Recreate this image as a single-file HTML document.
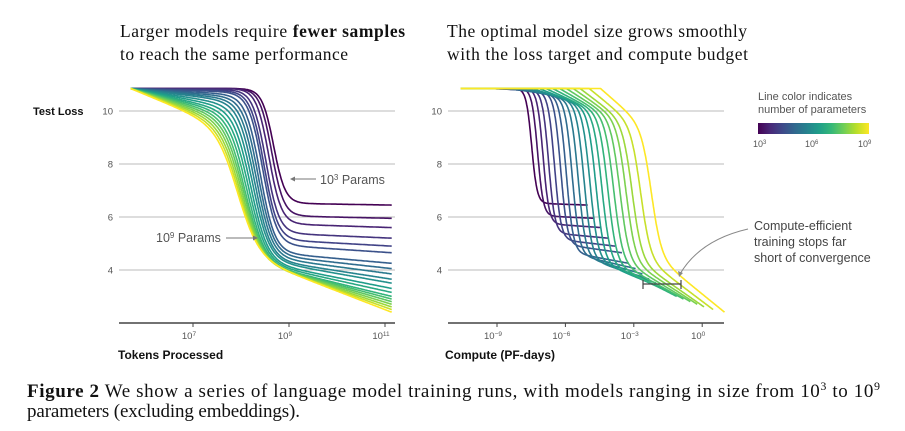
<!DOCTYPE html>
<html><head><meta charset="utf-8"><style>
body{margin:0;background:#fff;}
svg{display:block;}
.ser{font-family:"Liberation Serif",serif;}
.sans{font-family:"Liberation Sans",sans-serif;}
</style></head><body>
<svg id="fig" width="905" height="431" viewBox="0 0 905 431">
<defs><linearGradient id="vir" x1="0" x2="1" y1="0" y2="0">
<stop offset="0" stop-color="#440154"/><stop offset="0.11" stop-color="#482878"/><stop offset="0.22" stop-color="#3e4989"/><stop offset="0.33" stop-color="#31688e"/><stop offset="0.44" stop-color="#26828e"/><stop offset="0.55" stop-color="#1f9e89"/><stop offset="0.66" stop-color="#35b779"/><stop offset="0.77" stop-color="#6ece58"/><stop offset="0.88" stop-color="#b5de2b"/><stop offset="1" stop-color="#fde725"/></linearGradient></defs>
<g class="ser" font-size="17.5" fill="#111">
<text x="120" y="37" textLength="285" lengthAdjust="spacing">Larger models require <tspan font-weight="bold">fewer samples</tspan></text>
<text x="120" y="60" textLength="228" lengthAdjust="spacing">to reach the same performance</text>
<text x="447" y="37" textLength="300" lengthAdjust="spacing">The optimal model size grows smoothly</text>
<text x="447" y="60" textLength="301" lengthAdjust="spacing">with the loss target and compute budget</text>
</g>
<g id="grid"></g>
<g id="lines"></g>
<g class="sans">
<text x="33" y="115" font-size="11" font-weight="bold" fill="#111">Test Loss</text>
<text x="118" y="359" font-size="12" font-weight="bold" fill="#111">Tokens Processed</text>
<text x="445" y="359" font-size="12" font-weight="bold" fill="#111">Compute (PF-days)</text>
<text x="320" y="184" font-size="12.5" fill="#555">10<tspan font-size="8" dy="-4">3</tspan><tspan dy="4"> Params</tspan></text>
<line x1="316" y1="179" x2="292" y2="179" stroke="#777" stroke-width="1"/>
<path d="M290 179 l5 -2.5 v5z" fill="#777"/>
<text x="156" y="242" font-size="12.5" fill="#555">10<tspan font-size="8" dy="-4">9</tspan><tspan dy="4"> Params</tspan></text>
<line x1="226" y1="238" x2="256" y2="238" stroke="#777" stroke-width="1"/>
<path d="M258 238 l-5 -2.5 v5z" fill="#777"/>
<text x="758" y="100" font-size="11" fill="#555">Line color indicates</text>
<text x="758" y="113" font-size="11" fill="#555">number of parameters</text>
<rect x="758" y="123" width="111" height="11" fill="url(#vir)"/>
<g font-size="9" fill="#555">
<text x="753" y="147">10<tspan font-size="6" dy="-3">3</tspan></text>
<text x="805" y="147">10<tspan font-size="6" dy="-3">6</tspan></text>
<text x="858" y="147">10<tspan font-size="6" dy="-3">9</tspan></text>
</g>
<g font-size="12.5" fill="#444">
<text x="754" y="230">Compute-efficient</text>
<text x="754" y="246">training stops far</text>
<text x="754" y="262">short of convergence</text>
</g>
<path d="M748 229 Q700 240 680 274" fill="none" stroke="#888" stroke-width="1"/>
<path d="M679 277 l-1 -6 l5 2z" fill="#888"/>
<g stroke="#444" stroke-width="1.2">
<line x1="643" y1="284" x2="681" y2="284"/><line x1="643" y1="280" x2="643" y2="289"/><line x1="681" y1="280" x2="681" y2="289"/>
</g>
</g>
<g class="ser" font-size="19" fill="#111">
<text x="27" y="397" textLength="853" lengthAdjust="spacing"><tspan font-weight="bold">Figure 2</tspan>   We show a series of language model training runs, with models ranging in size from 10<tspan font-size="12" dy="-7">3</tspan><tspan dy="7"> to 10</tspan><tspan font-size="12" dy="-7">9</tspan></text>
<text x="27" y="417" textLength="273" lengthAdjust="spacing">parameters (excluding embeddings).</text>
</g>
</svg>
<script>
const logParams=[3,3.3,3.6,3.9,4.2,4.5,4.8,5.1,5.4,5.7,6,6.3,6.6,6.9,7.2,7.5,7.8,8.1,8.5,9];
const finalLoss=[6.45,5.95,5.6,5.2,4.9,4.65,4.25,4.05,3.85,3.65,3.5,3.3,3.15,3.0,2.9,2.8,2.7,2.6,2.5,2.4];
const dropCenter=[8.68,8.64,8.58,8.52,8.48,8.45,8.4,8.36,8.32,8.28,8.24,8.2,8.16,8.12,8.08,8.05,8.02,7.99,7.96,7.93];
const tailSlope=[0.03,0.04,0.06,0.08,0.1,0.12,0.16,0.2,0.24,0.28,0.32,0.36,0.4,0.44,0.48,0.52,0.56,0.6,0.65,0.7];
const earlySlope=[0,0,0,0.02,0.04,0.06,0.1,0.14,0.18,0.22,0.28,0.34,0.4,0.45,0.5,0.55,0.6,0.65,0.7,0.75];
const yTicks=[4,6,8,10];
const leftXTicks=[7,9,11];
const rightXTicks=[-9,-6,-3,0];
const startLoss=10.85, tStart=5.7, tEnd=11.15, flopsOffset=-19.16;

const NS="http://www.w3.org/2000/svg";
const grid=document.getElementById('grid'), lines=document.getElementById('lines');
const yS=v=>111+(10-v)*26.5;
const xL=t=>193+(t-7)*48;
const xR=c=>497+(c+9)*22.8;
const vir=["#440154","#482878","#3e4989","#31688e","#26828e","#1f9e89","#35b779","#6ece58","#b5de2b","#fde725"];
function hex(h){return [1,3,5].map(i=>parseInt(h.substr(i,2),16));}
function color(f){const p=f*9,i=Math.min(8,Math.floor(p)),r=p-i,a=hex(vir[i]),b=hex(vir[i+1]);return 'rgb('+a.map((v,k)=>Math.round(v+(b[k]-v)*r)).join(',')+')';}
function mk(tag,attrs,parent){const e=document.createElementNS(NS,tag);for(const k in attrs)e.setAttribute(k,attrs[k]);parent.appendChild(e);return e;}

function axes(x0,x1,ticks,xf,side){
  yTicks.forEach(v=>{
    const l=mk('line',{x1:x0,x2:x1,y1:yS(v),y2:yS(v),stroke:'#bbb','stroke-width':1},grid);
    
    
    const t=mk('text',{x:x0-6,y:yS(v)+3.5,'text-anchor':'end','font-size':9.5,fill:'#555','font-family':'Liberation Sans, sans-serif'},grid);
    t.textContent=v;
    
    
  });
  const ax=mk('line',{x1:x0,x2:x1,y1:323,y2:323,stroke:'#444','stroke-width':1.5},grid);
  
  
  ticks.forEach(v=>{
    const x=xf(v);
    mk('line',{x1:x,x2:x,y1:323,y2:327,stroke:'#444','stroke-width':1},grid);
    const t=mk('text',{x:x-4,y:339,'text-anchor':'middle','font-size':9.5,fill:'#555','font-family':'Liberation Sans, sans-serif'},grid);
    
    
    t.appendChild(document.createTextNode('10'));
    const s=mk('tspan',{'font-size':6.5,dy:-3},t);s.textContent=String(v).replace('-','\u2212');
  });
}
axes(119,395,leftXTicks,xL,'left');
axes(448,724,rightXTicks,xR,'right');

function lossAt(i,t){
  const base=finalLoss[i]+tailSlope[i]*(tEnd-t);
  const L0=startLoss-earlySlope[i]*(t-tStart);
  const w=0.12+0.1*i/(logParams.length-1);
  const s=1/(1+Math.exp((t-dropCenter[i])/w));
  return base+(L0-base)*s;
}
for(let i=0;i<logParams.length;i++){
  const c=color((logParams[i]-3)/6);
  let dl='',dr='M'+xR(-10.6).toFixed(1)+' '+yS(startLoss).toFixed(1);
  for(let t=tStart;t<=tEnd+1e-9;t+=0.02){
    const y=yS(lossAt(i,t)).toFixed(1);
    dl+=(dl?'L':'M')+xL(t).toFixed(1)+' '+y;
    dr+='L'+xR(logParams[i]+t+flopsOffset).toFixed(1)+' '+y;
  }
  const pl=mk('path',{d:dl,fill:'none',stroke:c,'stroke-width':1.6},lines);
  
  
  const pr=mk('path',{d:dr,fill:'none',stroke:c,'stroke-width':1.6},lines);
  
  
}
</script>
</body></html>
